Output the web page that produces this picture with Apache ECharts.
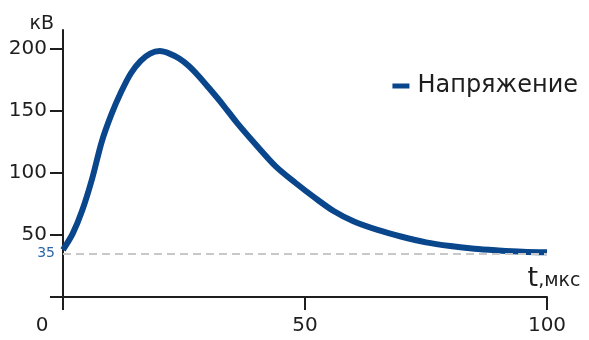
<!DOCTYPE html>
<html><head><meta charset="utf-8">
<script src="https://cdn.jsdelivr.net/npm/echarts@6/dist/echarts.min.js"></script>
<style>html,body{margin:0;padding:0;background:#fff}#c{width:589px;height:340px}</style>
</head><body><div id="c"></div>
<script>
const timeUs = [0, 2, 4, 6, 8, 10, 12, 14, 16, 18, 20, 22, 24, 26, 28, 30, 33, 36, 40, 44, 48, 52, 56, 60, 65, 70, 75, 80, 85, 90, 95, 100];
const voltageKv = [38, 51, 70, 95, 125, 147, 165, 180, 190, 196, 198, 196, 192, 186, 178, 169, 155, 140, 122, 105, 92, 80, 69, 61, 54, 48.5, 44, 41, 38.8, 37.5, 36.5, 36];
const xTicks = [0, 50, 100];
const yTicks = [0, 50, 100, 150, 200];
const yLabels = [50, 100, 150, 200];
const refLevel = 35;
const seriesName = 'Напряжение';

const chart = echarts.init(document.getElementById('c'), null, {renderer: 'canvas'});
const font = '"DejaVu Sans", Verdana, sans-serif';
const ink = '#1e1e1e';
chart.setOption({
  animation: false,
  grid: {left: 63, right: 42, top: 30, bottom: 43},
  legend: {
    right: 6, top: 69, icon: 'rect', itemWidth: 17, itemHeight: 5, itemGap: 5,
    textStyle: {fontFamily: font, fontSize: 24, color: ink, padding: [0, 0, 0, 3]},
    data: [seriesName]
  },
  xAxis: {
    type: 'value', min: 0, max: 100, interval: 50,
    splitLine: {show: false},
    axisLine: {onZero: false, lineStyle: {color: ink, width: 2}},
    axisTick: {show: true, length: 13, lineStyle: {color: ink, width: 2}, customValues: xTicks},
    axisLabel: {
      customValues: xTicks, margin: 19, fontFamily: font, fontSize: 20, color: ink,
      formatter: v => v === 0 ? '{z|0}' : String(v),
      rich: {z: {fontFamily: font, fontSize: 20, color: ink, padding: [0, 42, 0, 0]}}
    },
    name: '{t|t}{u|,мкс}', nameLocation: 'end', nameGap: 7,
    nameTextStyle: {
      align: 'center', verticalAlign: 'bottom', padding: [0, 0, 5, 0],
      rich: {
        t: {fontFamily: font, fontSize: 27, color: ink, verticalAlign: 'bottom'},
        u: {fontFamily: font, fontSize: 19, color: ink, verticalAlign: 'bottom', padding: [0, 0, 1, 0]}
      }
    }
  },
  yAxis: {
    type: 'value', min: 0, max: 215, interval: 50,
    splitLine: {show: false},
    axisLine: {show: true, lineStyle: {color: ink, width: 2}},
    axisTick: {show: true, length: 13, lineStyle: {color: ink, width: 2}, customValues: yTicks},
    axisLabel: {customValues: yLabels, margin: 16, fontFamily: font, fontSize: 20, color: ink},
    name: 'кВ', nameLocation: 'end', nameGap: -4,
    nameTextStyle: {fontFamily: font, fontSize: 19, color: ink, align: 'right', padding: [0, 9, 0, 0]}
  },
  series: [{
    name: seriesName, type: 'line', smooth: 0.3, showSymbol: false,
    data: timeUs.map((t, i) => [t, voltageKv[i]]),
    lineStyle: {color: '#0a468c', width: 6},
    itemStyle: {color: '#0a468c'},
    markLine: {
      silent: true, symbol: 'none',
      lineStyle: {color: '#c8c8c8', type: [8, 5], width: 2},
      label: {show: true, position: 'start', formatter: String(refLevel), color: '#2a64ad', fontFamily: font, fontSize: 14, distance: 8},
      data: [{yAxis: refLevel}]
    }
  }]
});
</script></body></html>
